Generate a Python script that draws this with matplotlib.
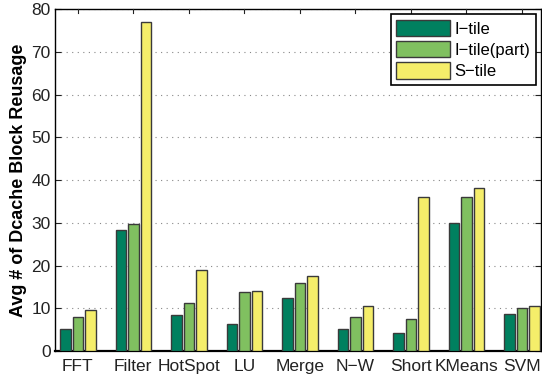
import numpy as np
import matplotlib
matplotlib.use("Agg")
import matplotlib.pyplot as plt

plt.rcParams['font.family'] = ['Liberation Sans', 'DejaVu Sans']

# benchmarks and reuse counts per tiling scheme
benchmarks = ['FFT', 'Filter', 'HotSpot', 'LU', 'Merge', 'N\u2212W', 'Short', 'KMeans', 'SVM']
itile = [5.1, 28.3, 8.4, 6.3, 12.5, 5.1, 4.2, 29.9, 8.7]
itile_part = [8.0, 29.7, 11.2, 13.8, 15.8, 8.0, 7.6, 36.1, 10.0]
stile = [9.6, 76.9, 18.9, 14.0, 17.5, 10.6, 36.0, 38.1, 10.5]
series_names = ['I\u2212tile', 'I\u2212tile(part)', 'S\u2212tile']

colors = ['#00805f', '#80c060', '#f5ee6a']

fig = plt.figure(figsize=(5.42, 3.76), dpi=100)
ax = fig.add_axes([0.1015, 0.0665, 0.8975, 0.9095])

x = np.arange(1, len(benchmarks) + 1)
step = 0.225
width = 0.19
for k, (vals, name) in enumerate(zip([itile, itile_part, stile], series_names)):
    ax.bar(x + (k - 1) * step, vals, width, color=colors[k], edgecolor='#3a3a3a',
           linewidth=1.0, label=name, zorder=3)

ax.set_xlim(0.59, 9.35)
ax.set_ylim(0, 80)
ax.set_yticks(range(0, 81, 10))
ax.set_xticks(x)
ax.set_xticklabels(benchmarks)
ax.tick_params(axis='y', labelsize=12.5, direction='in', right=True,
               length=4, width=0.8, colors='#222222', pad=3)
ax.tick_params(axis='x', labelsize=12.5, length=0, colors='#222222', pad=6)
# short tick marks along the top edge only
for t in ax.get_xticks():
    ax.plot([t, t], [80, 80 - 0.9], color='#222222', lw=0.8, clip_on=False, zorder=4)
ax.yaxis.grid(True, linestyle=(0, (1, 4)), color='#888888', linewidth=0.8, zorder=0)
for s in ax.spines.values():
    s.set_linewidth(1.0)
ax.spines['bottom'].set_linewidth(1.6)

ax.set_ylabel('Avg # of Dcache Block Reusage', fontsize=13, fontweight='bold', labelpad=3)

leg = ax.legend(loc='upper right', fontsize=12, fancybox=False, framealpha=1,
                edgecolor='black', handlelength=3.2, handleheight=1.15,
                borderaxespad=0.3, borderpad=0.35, labelspacing=0.25, handletextpad=0.3)
leg.get_frame().set_linewidth(1.2)

fig.savefig('out.png', dpi=100)
